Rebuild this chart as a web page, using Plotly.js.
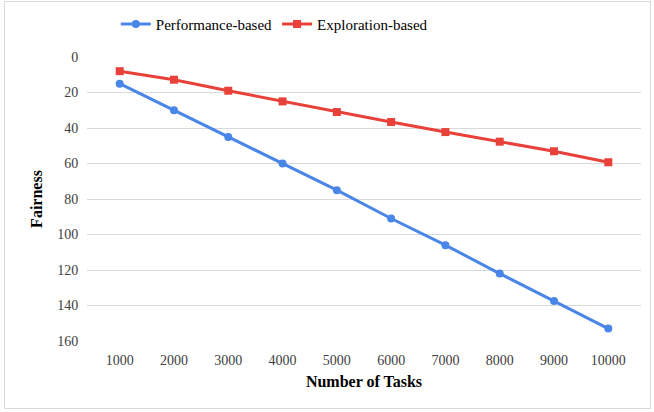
<!DOCTYPE html>
<html>
<head>
<meta charset="utf-8">
<script src="https://cdn.plot.ly/plotly-3.0.1.min.js"></script>
<style>
html,body{margin:0;padding:0;background:#fff;}
#wrap{position:absolute;left:4px;top:1px;width:647px;height:408px;border:1px solid #d9d9d9;box-sizing:border-box;}
#chart{position:absolute;left:0;top:0;width:654px;height:412px;}
</style>
</head>
<body>
<div id="wrap"></div>
<div id="chart"></div>
<script>
const categories = ["1000","2000","3000","4000","5000","6000","7000","8000","9000","10000"];
const performanceBased = [15, 30, 45, 60, 75, 91, 106, 122, 137.5, 153];
const explorationBased = [8, 12.8, 19, 25, 31, 36.6, 42.3, 47.7, 53.1, 59.3];
const yTicks = [0, 20, 40, 60, 80, 100, 120, 140, 160];

const font = "Liberation Serif, Times New Roman, serif";
const traces = [
  {x: categories, y: performanceBased, name: "Performance-based", type: "scatter", mode: "lines+markers",
   line: {color: "#4a86e8", width: 3}, marker: {symbol: "circle", size: 8, color: "#4a86e8"}},
  {x: categories, y: explorationBased, name: "Exploration-based", type: "scatter", mode: "lines+markers",
   line: {color: "#e8413a", width: 3}, marker: {symbol: "square", size: 8, color: "#e8413a"}}
];
const layout = {
  width: 654, height: 412,
  margin: {l: 87, r: 13, t: 57, b: 71, autoexpand: false},
  paper_bgcolor: "rgba(0,0,0,0)", plot_bgcolor: "#fff",
  font: {family: font, color: "#404040", size: 14},
  showlegend: true,
  legend: {orientation: "h", x: 0.052, xanchor: "left", y: 1.115, yanchor: "middle",
    font: {family: font, size: 15, color: "#000"}, itemwidth: 30, tracegroupgap: 0},
  xaxis: {type: "category", showgrid: false, zeroline: false, showline: false, ticks: "outside", ticklen: 6, tickcolor: "rgba(0,0,0,0)",
    tickfont: {family: font, size: 14, color: "#404040"}, automargin: true,
    title: {text: "Number of Tasks", font: {family: font, size: 16, color: "#000", weight: "bold"}, standoff: 9}},
  yaxis: {range: [160, 0], tickvals: yTicks, ticktext: yTicks.map(String), showgrid: true, gridcolor: "#d9d9d9",
    gridwidth: 1, zeroline: false, showline: false, ticks: "outside", ticklen: 5, tickcolor: "rgba(0,0,0,0)",
    tickfont: {family: font, size: 14, color: "#404040"}, automargin: true,
    title: {text: "Fairness", font: {family: font, size: 16, color: "#000", weight: "bold"}, standoff: 10}}
};
Plotly.newPlot("chart", traces, layout, {displayModeBar: false});
</script>
</body>
</html>
